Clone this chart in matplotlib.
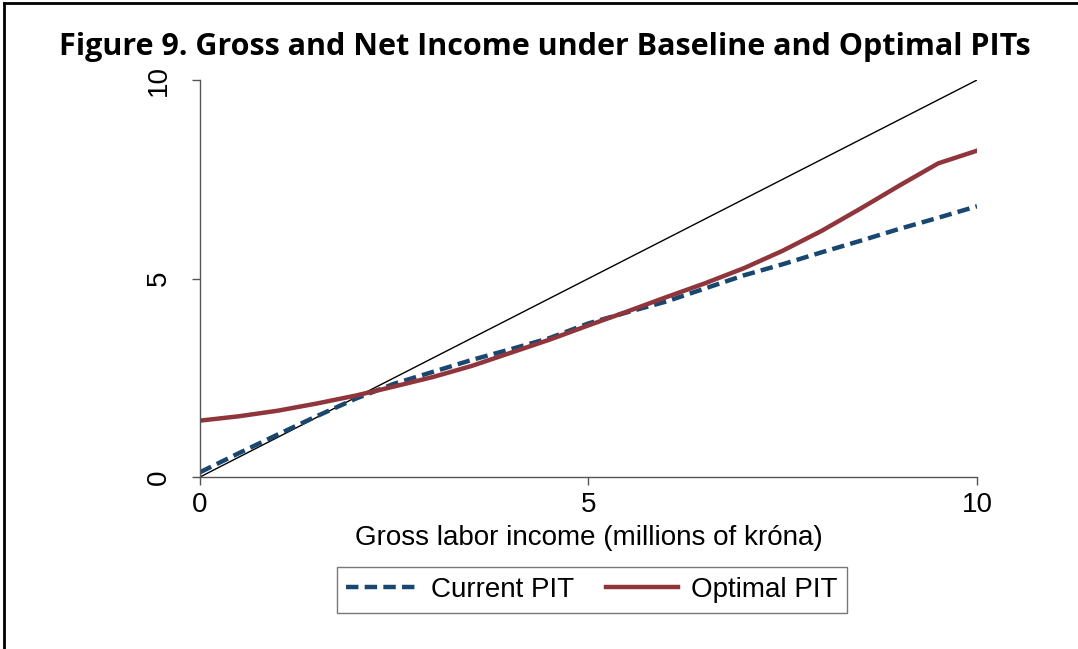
import matplotlib.pyplot as plt
from matplotlib.lines import Line2D

# Gross labor income (millions of krona)
gross = [0, 0.5, 1, 1.5, 2, 2.5, 3, 3.5, 4, 4.5, 5, 5.5, 6, 6.5, 7, 7.5, 8, 8.5, 9, 9.5, 10]
# Net income under current PIT
current_pit = [0.12, 0.6, 1.07, 1.53, 1.97, 2.35, 2.65, 2.95, 3.22, 3.5, 3.87, 4.15, 4.42,
               4.75, 5.08, 5.36, 5.66, 5.95, 6.25, 6.53, 6.82]
# Net income under optimal PIT
optimal_pit = [1.42, 1.53, 1.67, 1.85, 2.05, 2.28, 2.52, 2.8, 3.13, 3.46, 3.82, 4.17, 4.53,
               4.88, 5.26, 5.7, 6.2, 6.76, 7.34, 7.9, 8.22]
ticks = [0, 5, 10]

plt.rcParams['font.family'] = ['Liberation Sans', 'DejaVu Sans']

fig = plt.figure(figsize=(10.78, 6.49), dpi=100)
ax = fig.add_axes([0.1855, 0.265, 0.7208, 0.6117])

# 45 degree line (gross = net)
ax.plot([0, 10], [0, 10], color='black', lw=1.0)
ax.plot(gross, current_pit, color='#1a476f', lw=3.2, dashes=(2.8, 1.4), label='Current PIT')
ax.plot(gross, optimal_pit, color='#90353b', lw=3.2, label='Optimal PIT')

ax.set_xlim(0, 10)
ax.set_ylim(0, 10)
ax.set_xticks(ticks)
ax.set_yticks(ticks)
ax.set_xticklabels([str(t) for t in ticks], fontsize=20)
ax.set_yticklabels([str(t) for t in ticks], fontsize=20, rotation=90, va='center')
ax.tick_params(axis='both', length=6, width=1, color='#555555')
ax.tick_params(axis='x', pad=5)
ax.tick_params(axis='y', pad=14)
for side in ['top', 'right']:
    ax.spines[side].set_visible(False)
for side in ['left', 'bottom']:
    ax.spines[side].set_color('#555555')
    ax.spines[side].set_linewidth(1)
ax.set_xlabel('Gross labor income (millions of króna)', fontsize=20, labelpad=5)

fig.text(0.505, 0.928, 'Figure 9. Gross and Net Income under Baseline and Optimal PITs',
         fontsize=22, fontweight='bold', family='Open Sans', ha='center', va='center')

leg = fig.legend(loc='center', bbox_to_anchor=(0.549, 0.091), ncol=2, fontsize=20,
                 frameon=True, fancybox=False, edgecolor='#555555', handlelength=2.6,
                 handletextpad=0.45, columnspacing=1.15, borderpad=0.35, borderaxespad=0)
leg.get_frame().set_linewidth(1)

# outer frame (left and top edges)
fig.add_artist(Line2D([0.004, 0.004], [0, 0.996], color='black', lw=2, transform=fig.transFigure))
fig.add_artist(Line2D([0.004, 1.0], [0.996, 0.996], color='black', lw=2, transform=fig.transFigure))

fig.savefig('out.png', dpi=100)
